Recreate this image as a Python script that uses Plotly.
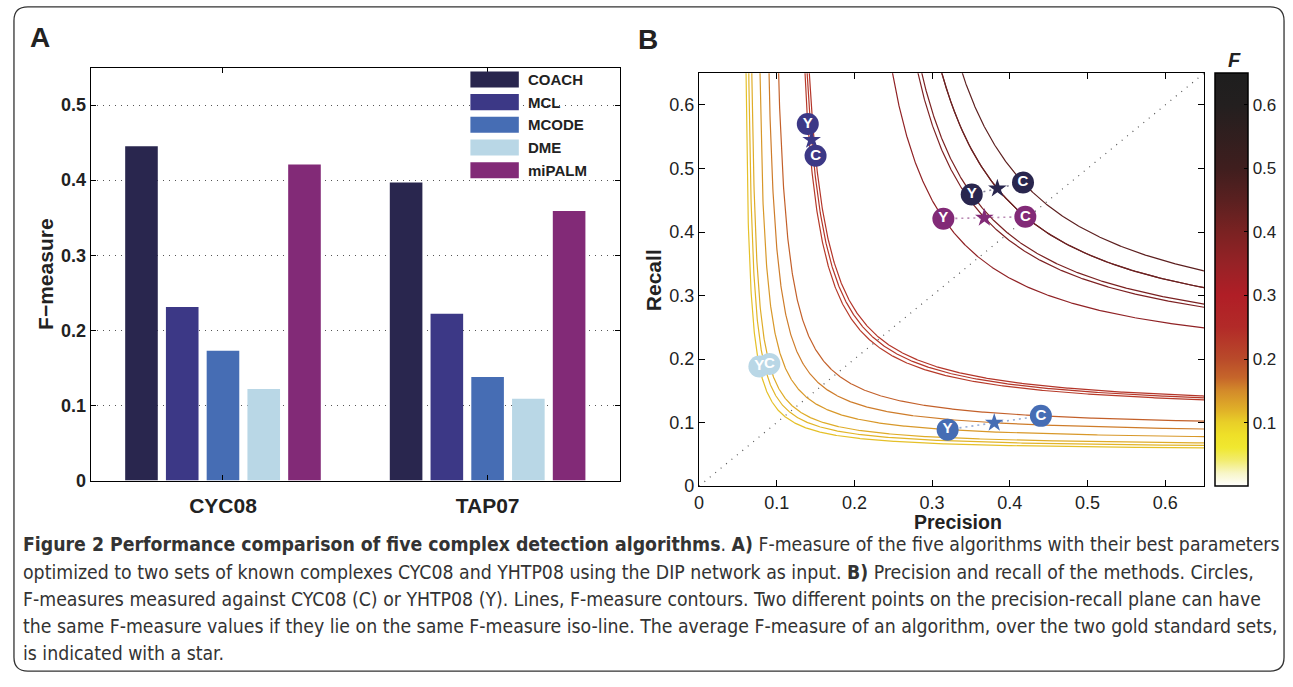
import numpy as np
import plotly.graph_objects as go

W, H = 1293, 687

# ---------------- data ----------------
algorithms = ["COACH", "MCL", "MCODE", "DME", "miPALM"]
alg_colors = ["#29264e", "#3c3886", "#466db4", "#b9d7e6", "#822a77"]
datasets = ["CYC08", "TAP07"]
f_cyc08 = [0.445, 0.231, 0.173, 0.122, 0.421]
f_tap07 = [0.397, 0.222, 0.138, 0.109, 0.359]

# precision / recall measured against CYC08 (C) and YHTP08 (Y)
prec_c = [0.417, 0.150, 0.440, 0.0905, 0.420]
rec_c = [0.478, 0.520, 0.1106, 0.1924, 0.424]
prec_y = [0.351, 0.140, 0.320, 0.0777, 0.3145]
rec_y = [0.459, 0.570, 0.0889, 0.1882, 0.421]

ticks_a = [0, 0.1, 0.2, 0.3, 0.4, 0.5]
ticks_b = [0, 0.1, 0.2, 0.3, 0.4, 0.5, 0.6]
tick_labels_a = ["0", "0.1", "0.2", "0.3", "0.4", "0.5"]
tick_labels_b = ["0", "0.1", "0.2", "0.3", "0.4", "0.5", "0.6"]
cb_ticks = [0.1, 0.2, 0.3, 0.4, 0.5, 0.6]
cb_labels = ["0.1", "0.2", "0.3", "0.4", "0.5", "0.6"]

caption_lines = [
    "<b>Figure 2 Performance comparison of five complex detection algorithms</b>. <b>A)</b> F-measure of the five algorithms with their best parameters",
    "optimized to two sets of known complexes CYC08 and YHTP08 using the DIP network as input. <b>B)</b> Precision and recall of the methods. Circles,",
    "F-measures measured against CYC08 (C) or YHTP08 (Y). Lines, F-measure contours. Two different points on the precision-recall plane can have",
    "the same F-measure values if they lie on the same F-measure iso-line. The average F-measure of an algorithm, over the two gold standard sets,",
    "is indicated with a star.",
]

# ---------------- style ----------------
FMAX = 0.65
cmap_f = [0, 0.02, 0.04, 0.06, 0.08, 0.10, 0.12, 0.15, 0.17, 0.20, 0.25, 0.30, 0.35, 0.40, 0.45, 0.50, 0.60, 0.65]
cmap_hex = ["#ffffff", "#f8f6c8", "#f2ec70", "#f0e830", "#efe028", "#e9cf28", "#e0b028", "#d38a2a",
            "#c6662a", "#b94a2a", "#b22a28", "#b01e26", "#962226", "#7a2222", "#5a2020", "#3f1e1e",
            "#231f1f", "#1e1e1e"]
colorscale = [[f / FMAX, c] for f, c in zip(cmap_f, cmap_hex)]


def hex2rgb(h):
    h = h.lstrip("#")
    return [int(h[i:i + 2], 16) for i in (0, 2, 4)]


cmap_rgb = np.array([hex2rgb(c) for c in cmap_hex], dtype=float)


def fcolor(f):
    r, g, b = (np.interp(f, cmap_f, cmap_rgb[:, k]) for k in range(3))
    return "rgb(%d,%d,%d)" % (round(r), round(g), round(b))


def fmeasure(p, r):
    return 2 * p * r / (p + r)


FONT = "Liberation Sans, Arial, Helvetica, sans-serif"
CAPFONT = "'DejaVu Sans Condensed', sans-serif"


def px(x):
    return x / W


def py(y):
    return 1 - y / H


# axis geometry (pixels)
A_L, A_R, A_T, A_B = 86, 617.3, 68.5, 487.7
B_L, B_R, B_T, B_B = 696.7, 1203.7, 74.3, 493.3

fig = go.Figure()

# ---------------- panel A: bars ----------------
for i, alg in enumerate(algorithms):
    fig.add_trace(go.Bar(
        x=[1, 2], y=[f_cyc08[i], f_tap07[i]], name=alg,
        marker=dict(color=alg_colors[i], line=dict(width=0)),
        showlegend=False, hoverinfo="skip", xaxis="x", yaxis="y"))

# ---------------- panel B ----------------
prec_s = [(a + b) / 2 for a, b in zip(prec_c, prec_y)]
rec_s = [(a + b) / 2 for a, b in zip(rec_c, rec_y)]

# diagonal P = R
fig.add_trace(go.Scatter(x=[0, FMAX], y=[0, FMAX], mode="lines",
                         line=dict(color="#555555", width=1.2, dash="1px,6px"),
                         showlegend=False, hoverinfo="skip", xaxis="x2", yaxis="y2"))

# F-measure iso-lines through every circle and star
f_all = []
for i in range(len(algorithms)):
    for p, r in ((prec_c[i], rec_c[i]), (prec_y[i], rec_y[i]), (prec_s[i], rec_s[i])):
        f_all.append(fmeasure(p, r))
for f in sorted(f_all):
    rmax = 0.75
    pmin = f * rmax / (2 * rmax - f)
    s = np.linspace(0, 1, 500)
    pp = pmin + (FMAX - pmin) * s ** 2.2
    rr = f * pp / (2 * pp - f)
    fig.add_trace(go.Scatter(x=pp, y=rr, mode="lines",
                             line=dict(color=fcolor(f), width=1.2),
                             showlegend=False, hoverinfo="skip", xaxis="x2", yaxis="y2"))

# dotted links Y - star - C
for i in range(len(algorithms)):
    fig.add_trace(go.Scatter(x=[prec_y[i], prec_s[i], prec_c[i]], y=[rec_y[i], rec_s[i], rec_c[i]],
                             mode="lines", opacity=0.55,
                             line=dict(color=alg_colors[i], width=1.6, dash="2px,4px"),
                             showlegend=False, hoverinfo="skip", xaxis="x2", yaxis="y2"))

# colorbar carrier (invisible markers)
fig.add_trace(go.Scatter(x=prec_s, y=rec_s, mode="markers",
                         marker=dict(size=1, opacity=0, color=f_all[2::3], cmin=0, cmax=FMAX,
                                     colorscale=colorscale, showscale=True,
                                     colorbar=dict(
                                         x=px(1215), xanchor="left", xref="paper", xpad=0,
                                         y=py(B_B), yanchor="bottom", yref="paper", ypad=0,
                                         len=(B_B - B_T) / H, lenmode="fraction",
                                         thickness=32.7, thicknessmode="pixels",
                                         outlinewidth=1.5, outlinecolor="black",
                                         ticks="inside", ticklen=4, tickcolor="black",
                                         tickvals=cb_ticks, ticktext=cb_labels,
                                         tickfont=dict(family=FONT, size=17, color="#222"))),
                         showlegend=False, hoverinfo="skip", xaxis="x2", yaxis="y2"))

# stars (average precision / recall)
fig.add_trace(go.Scatter(x=prec_s, y=rec_s, mode="markers",
                         marker=dict(symbol="star", size=14, color=alg_colors, line=dict(width=0)),
                         showlegend=False, hoverinfo="skip", xaxis="x2", yaxis="y2"))

# circles, then their letters on top
for pv, rv in ((prec_y, rec_y), (prec_c, rec_c)):
    fig.add_trace(go.Scatter(x=pv, y=rv, mode="markers",
                             marker=dict(size=22, color=alg_colors, line=dict(width=0)),
                             showlegend=False, hoverinfo="skip", xaxis="x2", yaxis="y2"))
for pv, rv, letter in ((prec_y, rec_y, "Y"), (prec_c, rec_c, "C")):
    fig.add_trace(go.Scatter(x=pv, y=rv, mode="text", text=[letter] * len(pv),
                             textposition="middle center",
                             textfont=dict(family=FONT, size=15, color="white", weight="bold"),
                             showlegend=False, hoverinfo="skip", xaxis="x2", yaxis="y2"))

# ---------------- layout ----------------
axis_common = dict(showline=True, linecolor="black", linewidth=1.3, mirror="ticks",
                   ticks="inside", tickcolor="black", zeroline=False)

fig.update_layout(
    width=W, height=H,
    margin=dict(l=0, r=0, t=0, b=0, pad=0),
    paper_bgcolor="white", plot_bgcolor="white",
    barmode="group", bargap=0.23, bargroupgap=0.2,
    showlegend=False,
    xaxis=dict(domain=[px(A_L), px(A_R)], range=[0.5, 2.5], tickvals=[1, 2], ticktext=datasets,
               ticklen=5, showgrid=False, anchor="y", ticklabelstandoff=6,
               tickfont=dict(family=FONT, size=21, color="#222", weight="bold"), **axis_common),
    yaxis=dict(domain=[py(A_B), py(A_T)], range=[0, 0.55], tickvals=ticks_a, ticktext=tick_labels_a,
               ticklen=5, showgrid=True, gridcolor="#555555", griddash="1px,5px", gridwidth=1, anchor="x",
               tickfont=dict(family=FONT, size=18, color="#222", weight="bold"), **axis_common),
    xaxis2=dict(domain=[px(B_L), px(B_R)], range=[0, FMAX], tickvals=ticks_b, ticktext=tick_labels_b,
                ticklen=6, showgrid=False, anchor="y2", ticklabelstandoff=0,
                tickfont=dict(family=FONT, size=18, color="#222"), **axis_common),
    yaxis2=dict(domain=[py(B_B), py(B_T)], range=[0, FMAX], tickvals=ticks_b, ticktext=tick_labels_b,
                ticklen=6, showgrid=False, anchor="x2",
                tickfont=dict(family=FONT, size=18, color="#222"), **axis_common),
)

shapes = []
annotations = []

# rounded frame around the whole figure
x0, y0, x1, y1, rr_ = 9, 7, 1284, 681, 14
rx, ry = rr_ / W, rr_ / H
X0, X1, Y0, Y1 = px(x0), px(x1), py(y0), py(y1)
path = (f"M {X0 + rx},{Y0} L {X1 - rx},{Y0} Q {X1},{Y0} {X1},{Y0 - ry} "
        f"L {X1},{Y1 + ry} Q {X1},{Y1} {X1 - rx},{Y1} L {X0 + rx},{Y1} "
        f"Q {X0},{Y1} {X0},{Y1 + ry} L {X0},{Y0 - ry} Q {X0},{Y0} {X0 + rx},{Y0} Z")
shapes.append(dict(type="path", path=path, xref="paper", yref="paper",
                   line=dict(color="#333333", width=1.3), fillcolor="rgba(0,0,0,0)"))

# legend of panel A
for i, alg in enumerate(algorithms):
    top = 0.9905 - i * 0.0549
    shapes.append(dict(type="rect", xref="x domain", yref="y domain", x0=0.7175, x1=0.809,
                       y0=top - 0.0389, y1=top, fillcolor=alg_colors[i], line=dict(width=0)))
    annotations.append(dict(text=alg, xref="x domain", yref="y domain", x=0.822, y=top - 0.0195,
                            xanchor="left", yanchor="middle", showarrow=False,
                            font=dict(family=FONT, size=15, color="#222", weight="bold")))

# colorbar left-side inner ticks
for t in cb_ticks:
    shapes.append(dict(type="line", xref="paper", yref="y2", x0=px(1215.5), x1=px(1219.5), y0=t, y1=t,
                       line=dict(color="black", width=1)))


def label(text, x, y, size, angle=0, xanchor="center", **fontkw):
    annotations.append(dict(text=text, xref="paper", yref="paper", x=px(x), y=py(y),
                            xanchor=xanchor, yanchor="middle", textangle=angle, showarrow=False,
                            borderpad=0,
                            font=dict(family=FONT, size=size, color="#222", **fontkw)))


label("A", 24, 38, 28, xanchor="left", weight="bold")
label("B", 634, 40, 28, xanchor="left", weight="bold")
label("F\u2212measure", 40, (A_T + A_B) / 2, 21, angle=-90, weight="bold")
label("Recall", 651, (B_T + B_B) / 2, 21, angle=-90, weight="bold")
label("Precision", 957, 530, 19.5, weight="bold")
label("F", 1234, 61, 20, weight="bold", style="italic")

# caption
for k, line in enumerate(caption_lines):
    annotations.append(dict(text=line, xref="paper", yref="paper", x=px(16), y=py(553 + k * 27.6),
                            xanchor="left", yanchor="middle", showarrow=False, align="left",
                            font=dict(family=CAPFONT, size=19.3, color="#333")))

fig.update_layout(shapes=shapes, annotations=annotations)

fig.write_html("out.html", post_script="document.body.style.margin='0';",
               config={"displayModeBar": False})
